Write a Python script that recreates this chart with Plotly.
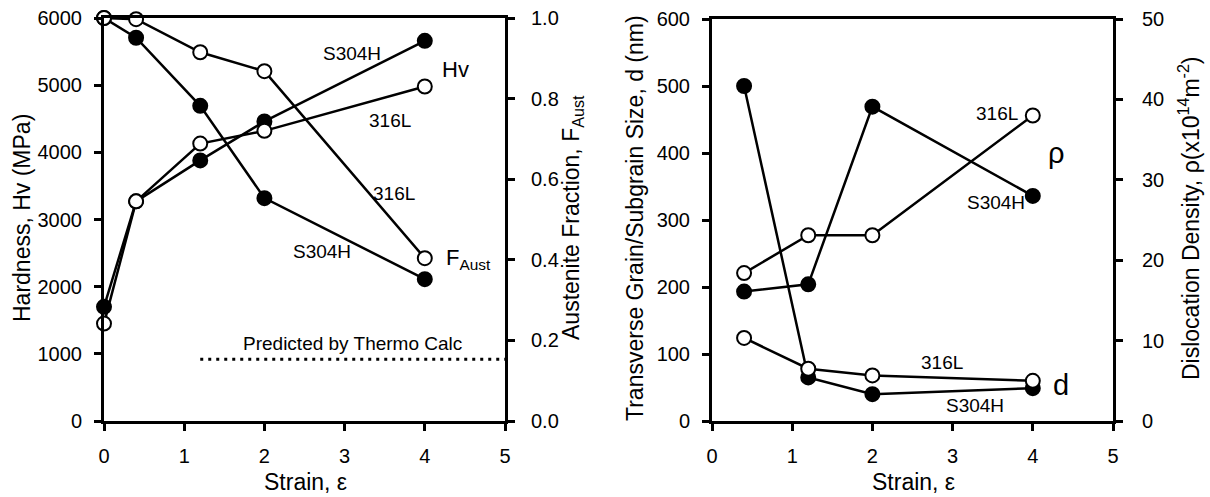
import plotly.graph_objects as go

# ---------------- data ----------------
strain_left = [0, 0.4, 1.2, 2, 4]
hv_s304h = [1700, 3270, 3880, 4460, 5660]
hv_316l = [1450, 3270, 4130, 4320, 4980]
faust_s304h = [1.0, 0.951, 0.782, 0.553, 0.352]
faust_316l = [1.0, 0.997, 0.915, 0.868, 0.404]
thermo_x = [1.2, 5.0]
thermo_y = [0.153, 0.153]

strain_right = [0.4, 1.2, 2, 4]
d_s304h = [500, 65, 40, 49]
d_316l = [124, 78, 68, 60]
rho_s304h = [16.1, 17.0, 39.1, 28.0]
rho_316l = [18.4, 23.1, 23.1, 38.0]

x_ticks = [0, 1, 2, 3, 4, 5]
hv_ticks = [0, 1000, 2000, 3000, 4000, 5000, 6000]
f_ticks = [0.0, 0.2, 0.4, 0.6, 0.8, 1.0]
d_ticks = [0, 100, 200, 300, 400, 500, 600]
rho_ticks = [0, 10, 20, 30, 40, 50]

W, H = 1210, 497
FONT = "Liberation Sans, Arial, sans-serif"


def px(x):
    return x / W


def py(y):
    return 1 - y / H


fig = go.Figure()


def series(x, y, xa, ya, filled):
    fig.add_trace(go.Scatter(
        x=x, y=y, xaxis=xa, yaxis=ya, mode="lines+markers",
        line=dict(color="black", width=2.5),
        marker=dict(size=14, symbol="circle",
                    color="black" if filled else "white",
                    line=dict(color="black", width=2)),
        cliponaxis=False, showlegend=False, hoverinfo="skip"))


# left panel
series(strain_left, hv_s304h, "x", "y", True)
series(strain_left, hv_316l, "x", "y", False)
fig.add_trace(go.Scatter(x=thermo_x, y=thermo_y, xaxis="x", yaxis="y2",
                         mode="lines", line=dict(color="black", width=3, dash="3px,5px"),
                         showlegend=False, hoverinfo="skip", cliponaxis=False))
series(strain_left, faust_s304h, "x", "y2", True)
series(strain_left, faust_316l, "x", "y2", False)

# right panel
series(strain_right, d_s304h, "x2", "y3", True)
series(strain_right, d_316l, "x2", "y3", False)
series(strain_right, rho_s304h, "x2", "y4", True)
series(strain_right, rho_316l, "x2", "y4", False)

tickfont = dict(family=FONT, size=20, color="black")
common = dict(showgrid=False, zeroline=False, showline=True, linecolor="black",
              linewidth=3, ticks="outside", ticklen=7, tickwidth=2.5,
              tickcolor="black", tickfont=tickfont, automargin=False)

yd = [py(421), py(18)]
fig.update_layout(
    width=W, height=H, margin=dict(l=0, r=0, t=0, b=0, autoexpand=False),
    paper_bgcolor="white", plot_bgcolor="white", showlegend=False,
    xaxis=dict(domain=[px(104), px(505)], range=[0, 5], tickvals=x_ticks,
               anchor="y", mirror=True, ticklabelstandoff=8, **common),
    yaxis=dict(domain=yd, range=[0, 6000], tickvals=hv_ticks, anchor="x",
               ticklabelstandoff=8, **common),
    yaxis2=dict(domain=yd, range=[0, 1], tickvals=f_ticks, tickformat=".1f",
                overlaying="y", side="right", anchor="x", ticklabelstandoff=12, **common),
    xaxis2=dict(domain=[px(712), px(1113)], range=[0, 5], tickvals=x_ticks,
                anchor="y3", mirror=True, ticklabelstandoff=8, **common),
    yaxis3=dict(domain=[py(421), py(19)], range=[0, 600], tickvals=d_ticks,
                anchor="x2", ticklabelstandoff=8, **common),
    yaxis4=dict(domain=[py(421), py(19)], range=[0, 50], tickvals=rho_ticks,
                overlaying="y3", side="right", anchor="x2", ticklabelstandoff=15, **common),
)


def label(text, x, y, size=19, xanchor="center", angle=0):
    fig.add_annotation(text=text, x=px(x), y=py(y), xref="paper", yref="paper",
                       showarrow=False, xanchor=xanchor, yanchor="middle",
                       textangle=angle,
                       font=dict(family=FONT, size=size, color="black"))


# in-plot labels, left panel
label("S304H", 352, 53)
label("Hv", 455, 69, size=22)
label("316L", 390, 120)
label("316L", 394, 193)
label("S304H", 322, 251)
label("F<sub>Aust</sub>", 444, 259, size=22, xanchor="left")
label("Predicted by Thermo Calc", 352, 343)

# in-plot labels, right panel
label("316L", 997, 114)
label("S304H", 996, 202)
label("ρ", 1056, 153, size=29)
label("316L", 942, 362)
label("S304H", 975, 405)
label("d", 1061, 385, size=29)

# axis titles
label("Strain, ε", 305, 482, size=23)
label("Strain, ε", 913, 482, size=23)
label("Hardness, Hv (MPa)", 22, 218, size=23, angle=-90)
label("Austenite Fraction, F<sub>Aust</sub>", 572, 218, size=23, angle=-90)
label("Transverse Grain/Subgrain Size, d (nm)", 635, 218, size=23, angle=-90)
label("Dislocation Density, ρ(x10<sup>14</sup>m<sup>-2</sup>)", 1189, 218, size=23, angle=-90)

fig.write_html("out.html")
